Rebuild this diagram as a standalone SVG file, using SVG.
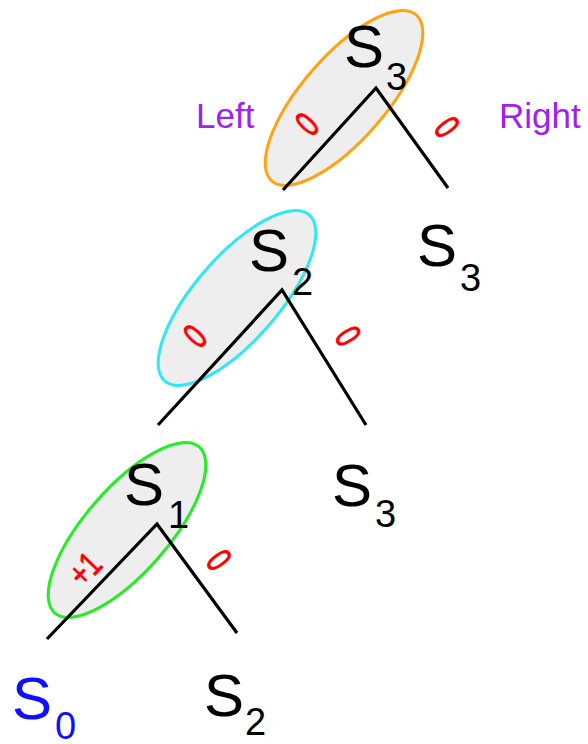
<svg xmlns="http://www.w3.org/2000/svg" width="588" height="744" viewBox="0 0 588 744">
<style>
.hl{fill:#eeeeee;stroke-width:3}
.edge{stroke:#000;stroke-width:3.2;fill:none;stroke-linecap:butt}
.s{font-family:"Liberation Sans",Arial,sans-serif;font-size:60px;fill:#000}
.sub{font-family:"Liberation Sans",Arial,sans-serif;font-size:38px;fill:#000}
.w{font-family:"Liberation Sans",Arial,sans-serif;font-size:37px;fill:#ff0000;stroke:#ff0000;stroke-width:0.9;text-anchor:middle;dominant-baseline:central}
.side{font-family:"Liberation Sans",Arial,sans-serif;font-size:35px;fill:#a020f0}
</style>
<rect width="588" height="744" fill="#fff"/>
<g id="highlights">
  <ellipse class="hl" cx="344" cy="98" rx="110" ry="42" transform="rotate(-49 344 98)" stroke="#ffa310"/>
  <ellipse class="hl" cx="237" cy="298" rx="110" ry="42" transform="rotate(-49 237 298)" stroke="#2ee8f5"/>
  <ellipse class="hl" cx="127" cy="530" rx="110" ry="42" transform="rotate(-49 127 530)" stroke="#22ee22"/>
</g>
<g id="connectors">
  <polyline class="edge" points="283,190 376,88 448,188"/>
  <polyline class="edge" points="158,425 282,290 366,425"/>
  <polyline class="edge" points="47,639 157,524 237,633"/>
</g>
<g id="edge-labels">
  <text class="w" transform="translate(307 124) rotate(-47) scale(0.7 1)">0</text>
  <text class="w" transform="translate(447 127) rotate(54) scale(0.7 1)">0</text>
  <text class="w" transform="translate(195 336) rotate(-47) scale(0.7 1)">0</text>
  <text class="w" transform="translate(348 336) rotate(58) scale(0.7 1)">0</text>
  <text class="w" transform="translate(85 569) rotate(-46) scale(0.72 0.95)">+1</text>
  <text class="w" transform="translate(219 560) rotate(54) scale(0.7 1)">0</text>
</g>
<g id="side-labels">
  <text class="side" x="196" y="128">Left</text>
  <text class="side" x="499" y="128">Right</text>
</g>
<g id="node-s3-root"><text class="s" x="344" y="67">S</text><text class="sub" x="386" y="90">3</text></g>
<g id="node-s2-mid"><text class="s" x="249" y="271">S</text><text class="sub" x="292" y="295">2</text></g>
<g id="node-s3-mid"><text class="s" x="417" y="266">S</text><text class="sub" x="460" y="291">3</text></g>
<g id="node-s1"><text class="s" x="124" y="505">S</text><text class="sub" x="168" y="528">1</text></g>
<g id="node-s3-low"><text class="s" x="332" y="506">S</text><text class="sub" x="375" y="527">3</text></g>
<g id="node-s0"><text class="s" x="12" y="719" style="fill:#1010ff">S</text><text class="sub" x="55" y="739" style="fill:#1010ff">0</text></g>
<g id="node-s2-low"><text class="s" x="204" y="716">S</text><text class="sub" x="245" y="735">2</text></g>
</svg>
